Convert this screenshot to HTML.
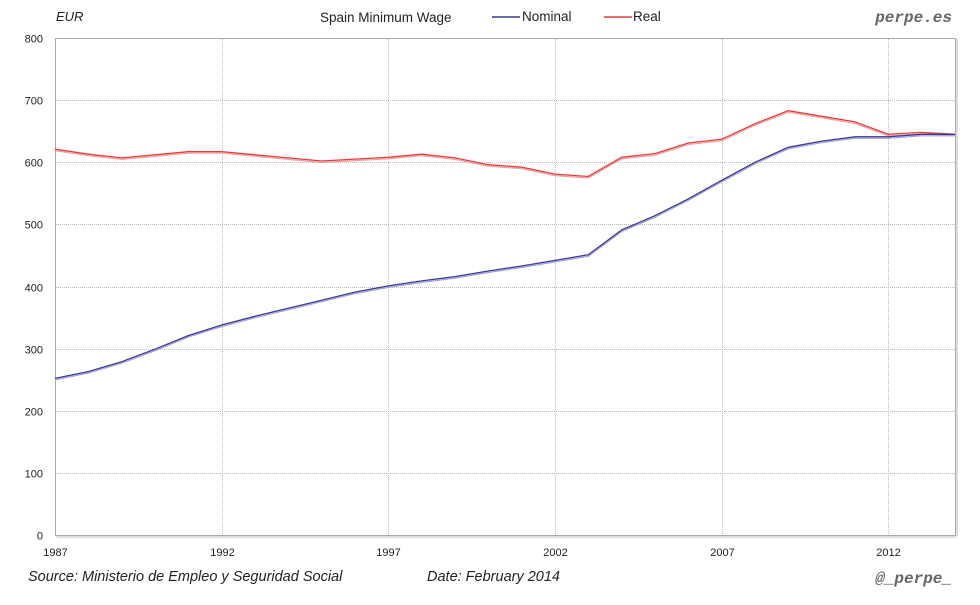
<!DOCTYPE html>
<html><head><meta charset="utf-8"><style>
body{margin:0;background:#fff;width:980px;height:600px;overflow:hidden}
svg text{font-family:"Liberation Sans","DejaVu Sans",sans-serif}
</style></head><body>
<svg id="s" width="980" height="600" xmlns="http://www.w3.org/2000/svg">
<rect x="0" y="0" width="980" height="600" fill="#fff"/>
<g id="grid" stroke="#bbb" stroke-dasharray="1,1" stroke-width="1"></g>
<rect x="55.5" y="38.5" width="900" height="497" fill="none" stroke="#aaa" stroke-width="1"/>
<rect x="56.5" y="536" width="900" height="2" fill="#ddd"/>
<rect x="956" y="39" width="2" height="497" fill="#ddd"/>
<g id="lab" font-size="11" fill="#222"></g>
<text x="56" y="21" font-size="13" font-style="italic" fill="#222">EUR</text>
<text x="320" y="22" font-size="13.5" fill="#222">Spain Minimum Wage</text>
<line x1="492" y1="17" x2="520" y2="17" stroke="#3a3a8c" stroke-width="1.5"/>
<text x="522" y="21" font-size="13.5" fill="#222">Nominal</text>
<line x1="604" y1="17" x2="632" y2="17" stroke="#e83c3c" stroke-width="1.5"/>
<text x="633" y="21" font-size="13.5" fill="#222">Real</text>
<text x="952" y="22" font-size="16" font-weight="bold" font-style="italic" fill="#666" text-anchor="end" style="font-family:'Liberation Mono',monospace">perpe.es</text>
<text x="28" y="581" font-size="14.5" font-style="italic" fill="#222">Source: Ministerio de Empleo y Seguridad Social</text>
<text x="427" y="581" font-size="14.5" font-style="italic" fill="#222">Date: February 2014</text>
<text x="952" y="583" font-size="16" font-weight="bold" font-style="italic" fill="#666" text-anchor="end" style="font-family:'Liberation Mono',monospace">@_perpe_</text>
<g id="lines" fill="none"></g>
</svg>
<script>
var ns="http://www.w3.org/2000/svg";
function X(y){return 55+(y-1987)*900/27}
function Y(v){return 535-v*497/800}
function el(t,a,p,txt){var e=document.createElementNS(ns,t);for(var k in a)e.setAttribute(k,a[k]);if(txt)e.textContent=txt;p.appendChild(e);return e}
var g=document.getElementById('grid'),l=document.getElementById('lab');
for(var v=0;v<=800;v+=100){var y=Math.round(Y(v))+0.5;if(v>0&&v<800)el('line',{x1:56,x2:955,y1:y,y2:y},g);el('text',{x:43,y:y+4,'text-anchor':'end'},l,String(v))}
[1987,1992,1997,2002,2007,2012].forEach(function(yr){var x=Math.round(X(yr))+0.5;if(yr>1987)el('line',{x1:x,x2:x,y1:39,y2:535},g);el('text',{x:x,y:556,'text-anchor':'middle'},l,String(yr))});
var nom=[252,263,279,299,321,338,352,365,378,391,401,409,416,425,433,442,451,491,514,541,571,600,624,634,641,641,645,645];
var real=[621,613,607,612,617,617,612,607,602,605,608,613,607,596,592,581,577,608,614,631,637,662,683,674,665,645,648,645];
var L=document.getElementById('lines');
function draw(d,c1,c2){var p=d.map(function(v,i){return X(1987+i).toFixed(1)+','+Y(v).toFixed(1)}).join(' ');
var p2=d.map(function(v,i){return X(1987+i).toFixed(1)+','+(Y(v)+1.5).toFixed(1)}).join(' ');
el('polyline',{points:p2,stroke:c2,'stroke-width':1.2},L);el('polyline',{points:p,stroke:c1,'stroke-width':1.3},L)}
draw(real,'#e83c3c','#f0a0a0');
draw(nom,'#3a3a8c','#a0a0e8');
</script>
</body></html>
